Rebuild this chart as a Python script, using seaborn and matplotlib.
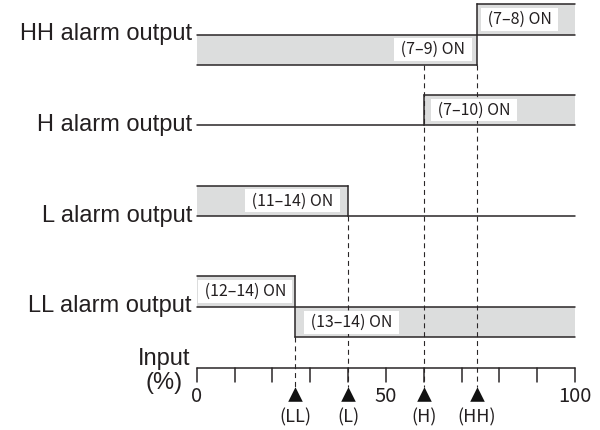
import matplotlib
matplotlib.use("Agg")
import matplotlib.pyplot as plt
import seaborn as sns
import pandas as pd

# ---------------- data ----------------
output_names = ["HH alarm output", "H alarm output", "L alarm output", "LL alarm output"]
switch_points = [74, 60, 40, 26]          # HH, H, L, LL set points (% of input)
states_below = [-1, 0, 1, 1]              # band side below set point (+1 above line, -1 below, 0 none)
states_above = [1, 1, 0, -1]              # band side above set point
labels_below = ["(7–9) ON", None, "(11–14) ON", "(12–14) ON"]
labels_above = ["(7–8) ON", "(7–10) ON", None, "(13–14) ON"]
label_x_below = [62.5, None, 25.3, 12.8]
label_x_above = [85.3, 73.3, None, 41.0]
setpoint_names = ["(LL)", "(L)", "(H)", "(HH)"]
setpoint_values = [26, 40, 60, 74]
tick_values = list(range(0, 101, 10))
tick_label_values = [0, 50, 100]
tick_labels = ["0", "50", "100"]
axis_title = ["Input", "(%)"]

# ---------------- style / layout ----------------
sns.set_theme(style="white")
LINE = "#2a2627"
FILL = "#dcdddd"
TXT = "#231f20"
LW = 1.1
JP = ["Noto Sans CJK JP", "DejaVu Sans"]
SANS = ["Liberation Sans", "DejaVu Sans"]

PX0, PXS = 196.7, 3.783           # pixel of x=0, pixels per unit
def xd(px):
    return (px - PX0) / PXS

row_y = [34.5 + 90.8 * i for i in range(4)]
band = 30.5
axis_y = 368.3
tick_len = 14
tri_y = 394

fig = plt.figure(figsize=(6, 4.3), dpi=100)
ax = fig.add_axes([0, 0, 1, 1])
ax.set_xlim(xd(0), xd(600))
ax.set_ylim(430, 0)
ax.axis("off")

x_min, x_max = tick_values[0], tick_values[-1]

# dashed guide lines from set points
dash_tops = {26: row_y[3] + band, 40: row_y[2], 60: row_y[0] + band, 74: row_y[0] + band}
for v in setpoint_values:
    ax.plot([v, v], [dash_tops[v], tri_y - 7], color=LINE, lw=0.8,
            dashes=(4.5, 3.5), zorder=2)

# timing bands
for i, name in enumerate(output_names):
    y0 = row_y[i]
    s = switch_points[i]
    sb, sa = states_below[i], states_above[i]
    df = pd.DataFrame({"x": [x_min, x_max], "y": [y0, y0]})
    sns.lineplot(data=df, x="x", y="y", ax=ax, color=LINE, lw=LW, zorder=3)
    if sb:
        ax.fill_between([x_min, s], y0, y0 - sb * band, color=FILL, lw=0, zorder=1)
        ax.plot([x_min, s], [y0 - sb * band] * 2, color=LINE, lw=LW, zorder=3)
    if sa:
        ax.fill_between([s, x_max], y0, y0 - sa * band, color=FILL, lw=0, zorder=1)
        ax.plot([s, x_max], [y0 - sa * band] * 2, color=LINE, lw=LW, zorder=3)
    ax.plot([s, s], [y0 - sb * band, y0 - sa * band], color=LINE, lw=LW, zorder=3,
            solid_capstyle="projecting")
    for lab, lx, st in ((labels_below[i], label_x_below[i], sb),
                        (labels_above[i], label_x_above[i], sa)):
        if lab:
            ax.text(lx, y0 - st * band / 2, " " + lab + " ", ha="center", va="center",
                    fontsize=11.5, family=JP, color=TXT, zorder=5,
                    bbox=dict(boxstyle="square,pad=0.18", fc="white", ec="none"))
    ax.text(xd(192), y0 + 5.5, name, ha="right", va="baseline", fontsize=17,
            family=SANS, color=TXT)

# input axis
ax.plot([x_min, x_max], [axis_y, axis_y], color=LINE, lw=LW, zorder=3)
for t in tick_values:
    ax.plot([t, t], [axis_y, axis_y + tick_len], color=LINE, lw=LW, zorder=3)
for v, lab in zip(tick_label_values, tick_labels):
    ax.text(v, 401.7, lab, ha="center", va="baseline", fontsize=14.5, family=JP, color=TXT)

ax.text(xd(164), 365, axis_title[0], ha="center", va="baseline", fontsize=17, family=SANS, color=TXT)
ax.text(xd(164), 388.5, axis_title[1], ha="center", va="baseline", fontsize=17, family=SANS, color=TXT)

# set point markers
sns.scatterplot(x=setpoint_values, y=[tri_y] * len(setpoint_values), marker="^", s=110,
                color="#111111", linewidth=0, ax=ax, zorder=6)
for v, lab in zip(setpoint_values, setpoint_names):
    ax.text(v, 422.5, lab, ha="center", va="baseline", fontsize=13, family=JP, color=TXT)

fig.savefig("out.png", dpi=100)
